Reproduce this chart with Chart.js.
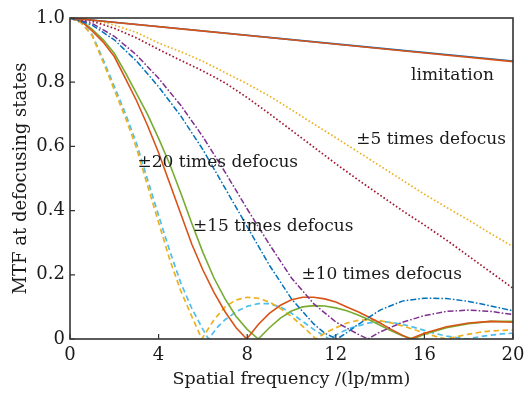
<!DOCTYPE html>
<html>
<head>
<meta charset="utf-8">
<script src="https://cdn.jsdelivr.net/npm/chart.js@4.4.1/dist/chart.umd.min.js"></script>
<style>
html,body{margin:0;padding:0;background:#fff;}
#wrap{width:532px;height:393px;position:relative;}
</style>
</head>
<body>
<div id="wrap"><canvas id="c" width="532" height="393"></canvas></div>
<script>
// ---- Data ----
const xTicks = [0, 4, 8, 12, 16, 20];
const yTicks = [0, 0.2, 0.4, 0.6, 0.8, 1.0];

// limitation (diffraction limit)
const limX = [0, 5, 10, 15, 20];
const limBlueY = [1, 0.9665, 0.9325, 0.899, 0.866];
const limOrangeY = [1, 0.966, 0.932, 0.898, 0.864];

// ±5 times defocus (dotted)
const d5X = [0,1,2,3,4,5,6,7,8,9,10,11,12,13,14,15,16,17,18,19,20];
const d5YellowY = [1,0.995,0.978,0.955,0.922,0.895,0.865,0.83,0.795,0.757,0.714,0.67,0.627,0.583,0.539,0.495,0.451,0.41,0.37,0.328,0.288];
const d5RedY = [1,0.99,0.968,0.938,0.902,0.868,0.835,0.798,0.752,0.702,0.65,0.598,0.546,0.496,0.448,0.4,0.355,0.308,0.258,0.208,0.158];

// ±10 times defocus (dash-dot)
const d10BlueX = [0,1,2,3,4,5,6,7,8,9,10,11,11.5,12.05,12.5,13,14,15,16,17,18,19,20];
const d10BlueY = [1,0.978,0.932,0.866,0.786,0.695,0.59,0.47,0.35,0.23,0.125,0.047,0.018,0,0.02,0.045,0.09,0.118,0.127,0.126,0.117,0.103,0.088];
const d10PurpleX = [0,1,2,3,4,5,6,7,8,9,10,11,12,13,13.45,14,15,16,17,18,19,20];
const d10PurpleY = [1,0.983,0.943,0.885,0.812,0.728,0.63,0.52,0.405,0.295,0.19,0.11,0.053,0.015,0,0.022,0.052,0.073,0.086,0.09,0.086,0.076];

// ±15 times defocus (solid)
const d15OrangeX = [0,0.5,1,1.5,2,2.5,3,3.5,4,4.5,5,5.5,6,6.5,7,7.5,7.98,8.5,9,9.5,10,10.5,11,11.5,12,12.5,13,13.5,14,14.5,15,15.35,16,17,18,19,20];
const d15OrangeY = [1,0.99,0.96,0.925,0.88,0.812,0.743,0.665,0.58,0.485,0.39,0.295,0.215,0.145,0.085,0.035,0,0.045,0.08,0.105,0.122,0.13,0.13,0.125,0.115,0.1,0.085,0.068,0.05,0.03,0.012,0,0.018,0.038,0.05,0.055,0.052];
const d15GreenX = [0,0.5,1,1.5,2,2.5,3,3.5,4,4.5,5,5.5,6,6.5,7,7.5,8,8.5,9,9.5,10,10.5,11,11.5,12,12.5,13,13.5,14,14.5,15,15.5,16,17,18,19,20];
const d15GreenY = [1,0.992,0.965,0.932,0.89,0.83,0.765,0.7,0.625,0.545,0.455,0.36,0.27,0.19,0.125,0.07,0.03,0,0.035,0.065,0.087,0.1,0.104,0.103,0.097,0.088,0.075,0.06,0.043,0.026,0.01,0,0.015,0.035,0.048,0.055,0.055];

// ±20 times defocus (dashed)
const d20GoldX = [0,0.5,1,1.5,2,2.5,3,3.5,4,4.5,5,5.5,5.95,6.5,7,7.5,8,8.5,9,9.5,10,10.5,11.1,11.5,12,12.5,13,13.5,14,14.5,15,15.5,16,16.5,17,17.5,18,18.5,19,19.5,20];
const d20GoldY = [1,0.985,0.945,0.862,0.776,0.69,0.595,0.478,0.363,0.248,0.15,0.07,0,0.06,0.1,0.122,0.13,0.127,0.115,0.095,0.07,0.04,0,0.018,0.035,0.05,0.058,0.06,0.057,0.05,0.041,0.03,0.019,0.008,0,0.008,0.015,0.021,0.025,0.027,0.028];
const d20CyanX = [0,0.5,1,1.5,2,2.5,3,3.5,4,4.5,5,5.5,6,6.25,6.7,7,7.5,8,8.5,9,9.5,10,10.5,11,11.7,12.2,12.7,13.5,14,14.5,15,15.5,16,16.5,17,17.9,18.5,19,19.5,20];
const d20CyanY = [1,0.986,0.948,0.87,0.787,0.703,0.61,0.497,0.385,0.275,0.175,0.095,0.03,0,0.04,0.06,0.085,0.102,0.11,0.11,0.1,0.08,0.055,0.03,0,0.02,0.035,0.05,0.054,0.052,0.046,0.037,0.027,0.017,0.009,0,0.007,0.012,0.016,0.018];

// annotation labels
const labelTexts = ['limitation', '\u00b15 times defocus', '\u00b120 times defocus', '\u00b115 times defocus', '\u00b110 times defocus'];
const labelX = [15.4, 12.92, 3.05, 5.55, 10.45];
const labelY = [0.822, 0.62, 0.549, 0.35, 0.2];

// ---- Build ----
const pts = (xs, ys) => xs.map((x, i) => ({x: x, y: ys[i]}));
const C = {blue:'#0072BD', orange:'#D95319', gold:'#EDB120', purple:'#7E2F8E', green:'#77AC30', cyan:'#4DBEEE', red:'#A2142F'};
const DOT = [1.6, 2.2], DASH = [5.5, 3.5], DASHDOT = [6, 2, 1.6, 2];
function ds(xs, ys, color, dash, w) {
  return {data: pts(xs, ys), borderColor: color, borderWidth: w || 1.6, borderDash: dash || [], pointRadius: 0, tension: 0, fill: false};
}
// listed bottom-to-top; reversed because Chart.js paints the first dataset on top
const datasets = [
  ds(d20CyanX, d20CyanY, C.cyan, DASH, 1.7),
  ds(d20GoldX, d20GoldY, C.gold, DASH, 1.7),
  ds(d15GreenX, d15GreenY, C.green, null, 1.6),
  ds(d15OrangeX, d15OrangeY, C.orange, null, 1.6),
  ds(d10PurpleX, d10PurpleY, C.purple, DASHDOT, 1.5),
  ds(d10BlueX, d10BlueY, C.blue, DASHDOT, 1.5),
  ds(d5X, d5RedY, C.red, DOT, 1.7),
  ds(d5X, d5YellowY, C.gold, DOT, 1.7),
  ds(limX, limBlueY, C.blue, null, 1.6),
  ds(limX, limOrangeY, C.orange, null, 1.6)
].reverse();

const FONT = "'DejaVu Serif', 'Liberation Serif', serif";
const TXT = '#1a1a1a';

const framePlugin = {
  id: 'frame',
  afterDatasetsDraw(chart) {
    const {ctx, chartArea: a, scales: {x, y}} = chart;
    ctx.save();
    ctx.strokeStyle = '#333';
    ctx.lineWidth = 1.6;
    ctx.strokeRect(a.left, a.top, a.right - a.left, a.bottom - a.top);
    ctx.lineWidth = 1.2;
    ctx.beginPath();
    xTicks.forEach(v => { const px = x.getPixelForValue(v); ctx.moveTo(px, a.bottom); ctx.lineTo(px, a.bottom - 5); });
    yTicks.forEach(v => { const py = y.getPixelForValue(v); ctx.moveTo(a.left, py); ctx.lineTo(a.left + 5, py); });
    ctx.stroke();
    ctx.fillStyle = TXT;
    ctx.font = "17px " + FONT;
    ctx.textAlign = 'left';
    ctx.textBaseline = 'middle';
    labelTexts.forEach((t, i) => ctx.fillText(t, x.getPixelForValue(labelX[i]), y.getPixelForValue(labelY[i])));
    ctx.restore();
  }
};

new Chart(document.getElementById('c'), {
  type: 'line',
  data: {datasets: datasets},
  options: {
    responsive: false,
    animation: false,
    events: [],
    layout: {padding: {top: 18, right: 19, left: 0, bottom: 0}},
    plugins: {legend: {display: false}, tooltip: {enabled: false}},
    scales: {
      x: {
        type: 'linear', min: 0, max: 20,
        afterBuildTicks: s => { s.ticks = xTicks.map(v => ({value: v})); },
        afterFit: s => { s.height = 54; },
        grid: {display: false, drawTicks: false},
        border: {display: false},
        ticks: {padding: 6, color: TXT, font: {family: FONT, size: 18}, maxRotation: 0},
        title: {display: true, text: 'Spatial frequency /(lp/mm)', color: TXT, font: {family: FONT, size: 17.5}, padding: {top: 0, bottom: 3}}
      },
      y: {
        type: 'linear', min: 0, max: 1,
        afterBuildTicks: s => { s.ticks = yTicks.map(v => ({value: v})); },
        afterFit: s => { s.width = 70; },
        grid: {display: false, drawTicks: false},
        border: {display: false},
        ticks: {padding: 5, color: TXT, font: {family: FONT, size: 18}, callback: v => v === 0 ? '0' : Number(v).toFixed(1)},
        title: {display: true, text: 'MTF at defocusing states', color: TXT, font: {family: FONT, size: 18}, padding: {top: 11, bottom: 0}}
      }
    }
  },
  plugins: [framePlugin]
});
</script>
</body>
</html>
